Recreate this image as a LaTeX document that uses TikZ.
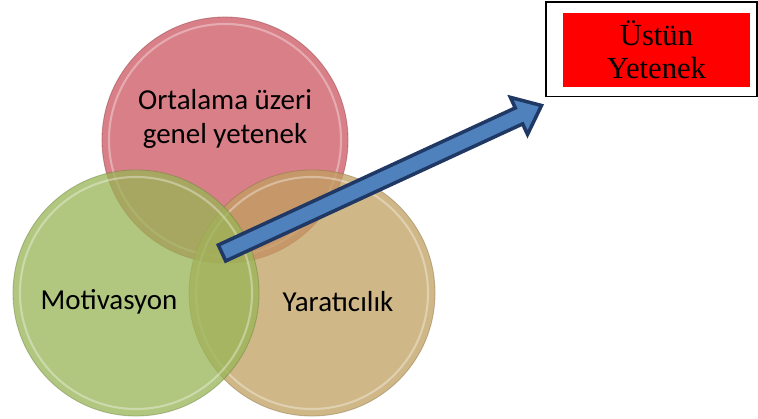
\documentclass[tikz,border=0pt]{standalone}
\usepackage{fontspec}
\setmainfont{Liberation Serif}
\newfontfamily\calibri{Carlito}
\usetikzlibrary{calc}
\definecolor{VennRed}{RGB}{203,85,95}
\definecolor{VennGreen}{RGB}{152,181,85}
\definecolor{VennOrange}{RGB}{192,160,96}
\definecolor{ArrowBlue}{RGB}{79,129,189}
\definecolor{ArrowNavy}{RGB}{31,56,100}
\definecolor{BoxRed}{RGB}{255,0,0}
\tikzset{
  % Circle styles
  bubble/.style={circle, minimum size=6.15cm, inner sep=0pt, fill opacity=0.75, draw opacity=0.45, line width=0.6pt},
  bubbletext/.style={font=\calibri\fontsize{20.6}{24.2}\selectfont, align=center, text=black},
  gloss/.style={white, line width=1.5pt, opacity=0.35},
  % Box styles
  framebox/.style={rectangle, draw=black, line width=1.4pt, fill=white, minimum width=5.25cm, minimum height=2.35cm},
  redbox/.style={rectangle, fill=BoxRed, minimum width=4.675cm, minimum height=1.85cm, font=\fontsize{21.8}{23.5}\selectfont, align=center},
  % Arrow styles
  blockarrow/.style={fill=ArrowBlue, draw=ArrowNavy, line width=2.5pt, line join=miter}
}

\begin{document}
\begin{tikzpicture}[x=0.025cm, y=-0.025cm]
  \fill[white] (0,0) rectangle (758,419);

  % the three circles
  \node[bubble, fill=VennRed, draw=VennRed!70!black] (ortalama) at (225,140) {};
  \draw[gloss] (ortalama.center) circle (2.9cm);
  \node[bubble, fill=VennOrange, draw=VennOrange!70!black] (yaraticilik) at (312,293) {};
  \draw[gloss] (yaraticilik.center) circle (2.9cm);
  \node[bubble, fill=VennGreen, draw=VennGreen!70!black] (motivasyon) at (136,293) {};
  \draw[gloss] (motivasyon.center) circle (2.9cm);

  \node[bubbletext] (ortalamatext) at ($(ortalama)+(0,-21)$) {Ortalama üzeri\\genel yetenek};
  \node[bubbletext] (motivasyontext) at ($(motivasyon)+(-27,9)$) {Motivasyon};
  \node[bubbletext] (yaraticiliktext) at ($(yaraticilik)+(26,9)$) {Yaratıcılık};

  % result box
  \node[framebox] (ustunframe) at (651.5,49.5) {};
  \node[redbox] (ustun) at (656.5,50) {Üstün\\Yetenek};

  % block arrow
  \coordinate (tail) at (222,253);
  \coordinate (tip) at ($(ustunframe.south west)+(-4,8)$);
  \coordinate (hb) at ($(tip)!0.62cm!(tail)$);
  \draw[blockarrow] ($(tail)!0.22cm!90:(tip)$) -- ($(hb)!0.22cm!-90:(tail)$)
    -- ($(hb)!0.51cm!-90:(tail)$) -- (tip) -- ($(hb)!0.51cm!90:(tail)$)
    -- ($(hb)!0.22cm!90:(tail)$) -- ($(tail)!0.22cm!-90:(tip)$) -- cycle;
\end{tikzpicture}
\end{document}
